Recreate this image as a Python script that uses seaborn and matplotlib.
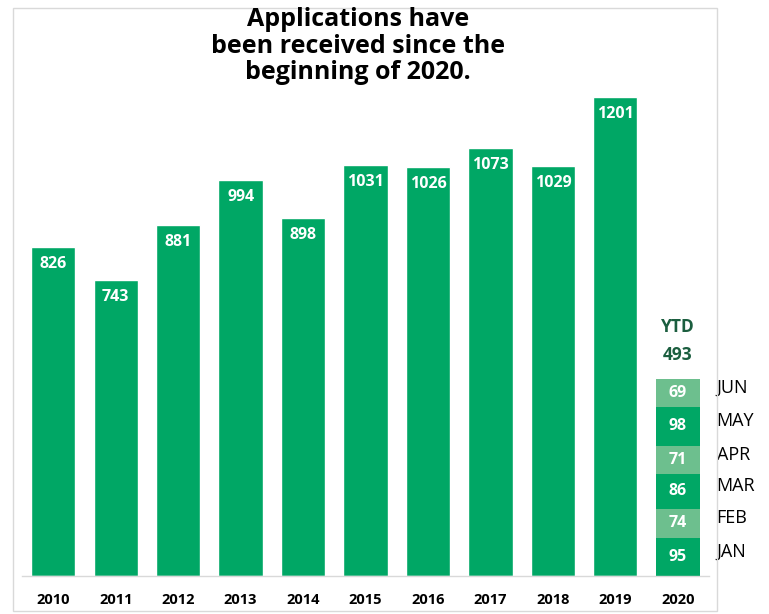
import matplotlib
matplotlib.use("Agg")
import matplotlib.pyplot as plt
import seaborn as sns
import pandas as pd
from matplotlib.patches import Rectangle

years = ["2010", "2011", "2012", "2013", "2014", "2015", "2016", "2017", "2018", "2019"]
counts = [826, 743, 881, 994, 898, 1031, 1026, 1073, 1029, 1201]
ytd_year = "2020"
months = ["JAN", "FEB", "MAR", "APR", "MAY", "JUN"]
month_counts = [95, 74, 86, 71, 98, 69]
title = "Applications have\nbeen received since the\nbeginning of 2020."

dark = "#00A765"
light = "#6DBF8E"
ytd_color = "#1B5E3F"

sns.set_theme(style="white")
plt.rcParams["font.family"] = ["Open Sans", "DejaVu Sans"]

W, H = 769, 614
fig = plt.figure(figsize=(W / 100, H / 100), dpi=100)
ax = fig.add_axes([22 / W, 1 - 576 / H, (709 - 22) / W, 568 / H])

order = years + [ytd_year]
df = pd.DataFrame({"year": years, "count": counts})
sns.barplot(data=df, x="year", y="count", order=order, color=dark,
            saturation=1, width=0.71, ax=ax)

for i, v in enumerate(counts):
    ax.annotate(str(v), (i, v), xytext=(0, -6.5), textcoords="offset points",
                ha="center", va="top", color="white", fontsize=11.5, fontweight="bold")

pos = len(years)
bottom = 0
for k, (m, v) in enumerate(zip(months, month_counts)):
    c = dark if k % 2 == 0 else light
    ax.bar(pos, v, bottom=bottom, width=0.71, color=c, linewidth=0)
    ax.text(pos, bottom + v / 2, str(v), ha="center", va="center",
            color="white", fontsize=11.5, fontweight="bold")
    ax.annotate(m, (pos + 0.355, bottom + v / 2), xytext=(12, 4),
                textcoords="offset points", ha="left", va="center",
                fontsize=13, color="black", annotation_clip=False)
    bottom += v

total = sum(month_counts)
ax.annotate(f"YTD\n{total}", (pos, total), xytext=(0, 11), textcoords="offset points",
            ha="center", va="bottom", color=ytd_color, fontsize=12.5,
            fontweight="bold", linespacing=1.7)

ax.set_xlim(-0.5, 10.5)
ax.set_ylim(0, 1424)
ax.set_xlabel("")
ax.set_ylabel("")
ax.set_yticks([])
ax.tick_params(axis="x", length=0, pad=12, labelsize=10.5)
for lab in ax.get_xticklabels():
    lab.set_fontweight("bold")
    lab.set_color("black")
for s in ["top", "right", "left"]:
    ax.spines[s].set_visible(False)
ax.spines["bottom"].set_color("#D9D9D9")
ax.spines["bottom"].set_linewidth(1)

fig.text(358 / W, 1 - 7 / H, title, ha="center", va="top", fontsize=18,
         fontweight="bold", color="black", linespacing=1.08)

fig.patches.append(Rectangle((13 / W, 1 - 611 / H), (717 - 13) / W, (611 - 8) / H,
                             transform=fig.transFigure, fill=False,
                             edgecolor="#D9D9D9", linewidth=1))

fig.savefig("out.png", dpi=100)
